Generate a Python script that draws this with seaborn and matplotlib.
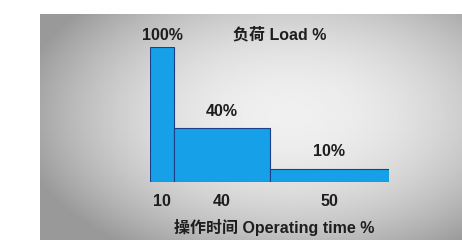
import numpy as np
import pandas as pd
import matplotlib
matplotlib.use("Agg")
import matplotlib.pyplot as plt
import seaborn as sns

# Data
time_share = [10, 40, 50]          # operating time %
load_pct = [100, 40, 10]           # load %
tick_labels = ["10", "40", "50"]
value_labels = ["100%", "40%", "10%"]
bin_edges = list(np.cumsum([0] + time_share))
mids = [(bin_edges[i] + bin_edges[i + 1]) / 2 for i in range(len(time_share))]
df = pd.DataFrame({"mid": mids, "load": load_pct})

sns.set_theme(style="white")
fam = ["Liberation Sans", "Noto Sans CJK SC", "DejaVu Sans"]
plt.rcParams["font.family"] = fam

W, H = 462, 240
fig = plt.figure(figsize=(W / 100, H / 100), dpi=100)
fig.patch.set_facecolor("white")

# gradient panel
x0p, y0p = 40, 14
bg = fig.add_axes([x0p / W, 0, 1 - x0p / W, (H - y0p) / H])
xs = np.linspace(x0p, W, 300)
ys = np.linspace(y0p, H, 200)
X, Y = np.meshgrid(xs, ys)
dx = (X - 290) / 255
dy = (Y - 115) / 150
r2 = dx ** 2 + dy ** 2
G = np.clip(0.94 - 0.29 * r2, 0.6, 1)
bg.imshow(G, cmap="gray", vmin=0, vmax=1, aspect="auto", extent=[0, 1, 0, 1], origin="upper")
bg.set_axis_off()

# main axes
left, right, bottom, top = 150, 389, 182, 47
ax = fig.add_axes([left / W, (H - bottom) / H, (right - left) / W, (bottom - top) / H])
ax.patch.set_alpha(0)
sns.histplot(data=df, x="mid", weights="load", bins=bin_edges, ax=ax,
             color="#16a0e8", edgecolor="#1d3f8a", linewidth=0.8, alpha=1)
ax.set_xlim(0, 100)
ax.set_ylim(0, 100)
for s in ax.spines.values():
    s.set_visible(False)
ax.set_yticks([])
ax.set_ylabel("")
FS = 11.5
tc = "#1e1e1e"
ax.set_xticks(mids)
ax.set_xticklabels(tick_labels, fontsize=FS, color=tc, fontweight="bold")
ax.tick_params(axis="x", length=0, pad=9)
ax.set_xlabel("操作时间 Operating time %", fontsize=FS, color=tc,
              fontweight="bold", va="center")
ax.xaxis.set_label_coords((274 - left) / (right - left), (bottom - 228) / (bottom - top))

offsets = [12, 17, 17]
for m, v, lab, off in zip(mids, load_pct, value_labels, offsets):
    ax.annotate(lab, (m, v), xytext=(0, off * 0.72), textcoords="offset points",
                ha="center", va="center", fontsize=FS, color=tc,
                fontweight="bold", annotation_clip=False)

ax.annotate("负荷 Load %", (54.4, 100), xytext=(0, 12 * 0.72), textcoords="offset points",
            ha="center", va="center", fontsize=FS, color=tc, fontweight="bold",
            annotation_clip=False)

fig.savefig("out.png", dpi=100)
